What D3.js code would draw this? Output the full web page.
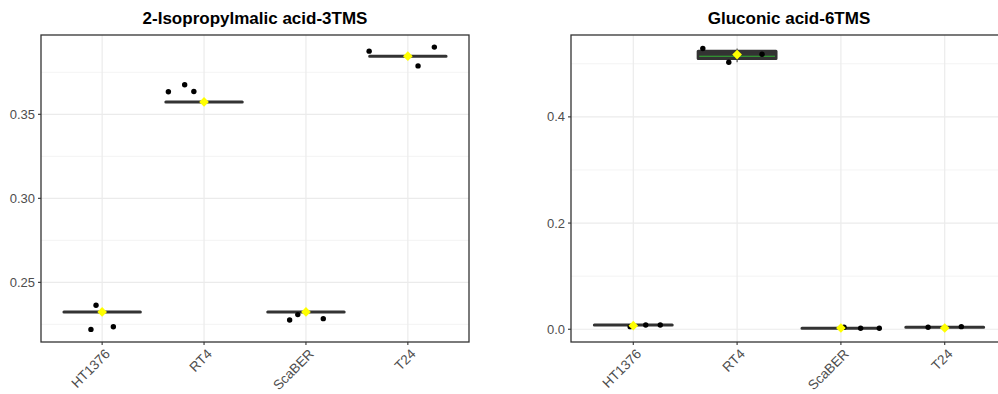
<!DOCTYPE html>
<html>
<head>
<meta charset="utf-8">
<script src="https://cdn.jsdelivr.net/npm/d3@7"></script>
<style>
  body { margin: 0; background: #fff; }
  svg { font-family: "Liberation Sans", Arial, sans-serif; }
</style>
</head>
<body>
<svg id="chart" width="998" height="394"></svg>
<script>
///// *** DATA *** /////
var categories = ['HT1376', 'RT4', 'ScaBER', 'T24'];

// panel 1: 2-Isopropylmalic acid-3TMS
var isoTitle = '2-Isopropylmalic acid-3TMS',
    isoTicks = [0.25, 0.30, 0.35],
    isoQ1 = [0.2324, 0.3574, 0.2324, 0.3846],
    isoMedian = [0.2324, 0.3574, 0.2324, 0.3846],
    isoQ3 = [0.2324, 0.3574, 0.2324, 0.3846],
    isoWhiskLo = [0.2324, 0.3574, 0.2324, 0.3846],
    isoWhiskHi = [0.2324, 0.3574, 0.2324, 0.3846],
    isoMean = [0.2324, 0.3574, 0.2324, 0.3846],
    isoPoints = [
      [0.2364, 0.2220, 0.2236],
      [0.3634, 0.3676, 0.3636],
      [0.2276, 0.2308, 0.2284],
      [0.3876, 0.3900, 0.3788]
    ],
    isoJitter = [
      [-0.06, -0.11, 0.11],
      [-0.35, -0.19, -0.10],
      [-0.16, -0.08, 0.17],
      [-0.38, 0.26, 0.10]
    ];

// panel 2: Gluconic acid-6TMS
var glucTitle = 'Gluconic acid-6TMS',
    glucTicks = [0.0, 0.2, 0.4],
    glucQ1 = [0.0081, 0.5099, 0.0019, 0.0038],
    glucMedian = [0.0081, 0.5142, 0.0019, 0.0038],
    glucQ3 = [0.0081, 0.5236, 0.0019, 0.0038],
    glucWhiskLo = [0.0081, 0.5029, 0.0019, 0.0038],
    glucWhiskHi = [0.0081, 0.5287, 0.0019, 0.0038],
    glucMean = [0.0068, 0.5174, 0.0024, 0.0024],
    glucPoints = [
      [0.0049, 0.0081, 0.0081],
      [0.5287, 0.5029, 0.5180],
      [0.0038, 0.0019, 0.0019],
      [0.0038, 0.0024, 0.0049]
    ],
    glucJitter = [
      [-0.03, 0.12, 0.26],
      [-0.33, -0.08, 0.24],
      [0.03, 0.19, 0.37],
      [-0.16, 0.0, 0.16]
    ];

///// *** DRAWING *** /////
var svg = d3.select('#chart');
var boxColor = '#333333',
    medianColor = '#33b033',
    meanColor = '#ffff00',
    gridColor = '#ebebeb',
    textColor = '#4d4d4d';

drawPanel({
  title: isoTitle, ticks: isoTicks, fmt: d3.format('.2f'),
  q1: isoQ1, med: isoMedian, q3: isoQ3, lo: isoWhiskLo, hi: isoWhiskHi,
  mean: isoMean, points: isoPoints, jitter: isoJitter,
  left: 41, right: 469, top: 35, bottom: 342,
  domain: [0.2145, 0.3972]
});

drawPanel({
  title: glucTitle, ticks: glucTicks, fmt: d3.format('.1f'),
  q1: glucQ1, med: glucMedian, q3: glucQ3, lo: glucWhiskLo, hi: glucWhiskHi,
  mean: glucMean, points: glucPoints, jitter: glucJitter,
  left: 571, right: 1007, top: 35, bottom: 342,
  domain: [-0.024, 0.5542]
});

function drawPanel(p){
  var g = svg.append('g');

  // ggplot discrete: 0.6 expansion on each side
  var x = d3.scalePoint()
    .domain(categories)
    .range([p.left, p.right])
    .padding(0.6);
  var step = x.step();
  var y = d3.scaleLinear().domain(p.domain).range([p.bottom, p.top]);

  // minor grid (midpoints between major ticks)
  var minor = [];
  var dt = p.ticks[1] - p.ticks[0];
  for (var i = -1; i < p.ticks.length; i++) {
    var v = p.ticks[0] + dt * (i + 0.5);
    if (v > p.domain[0] && v < p.domain[1]) minor.push(v);
  }
  g.selectAll('.minor').data(minor).enter().append('line')
    .attr('x1', p.left).attr('x2', p.right)
    .attr('y1', function(d){ return y(d); })
    .attr('y2', function(d){ return y(d); })
    .attr('stroke', gridColor).attr('stroke-width', 0.6);

  g.selectAll('.hmajor').data(p.ticks).enter().append('line')
    .attr('x1', p.left).attr('x2', p.right)
    .attr('y1', function(d){ return y(d); })
    .attr('y2', function(d){ return y(d); })
    .attr('stroke', gridColor).attr('stroke-width', 1.2);

  g.selectAll('.vmajor').data(categories).enter().append('line')
    .attr('y1', p.top).attr('y2', p.bottom)
    .attr('x1', function(d){ return x(d); })
    .attr('x2', function(d){ return x(d); })
    .attr('stroke', gridColor).attr('stroke-width', 1.2);

  var boxW = step * 0.75;

  // whiskers
  g.selectAll('.whisk').data(categories).enter().append('line')
    .attr('x1', function(d){ return x(d); })
    .attr('x2', function(d){ return x(d); })
    .attr('y1', function(d, i){ return y(p.lo[i]); })
    .attr('y2', function(d, i){ return y(p.hi[i]); })
    .attr('stroke', boxColor).attr('stroke-width', 1);

  // boxes (path so that a flat box still draws its outline)
  g.selectAll('.box').data(categories).enter().append('path')
    .attr('d', function(d, i){
      var x0 = x(d) - boxW / 2, x1 = x(d) + boxW / 2,
          yt = y(p.q3[i]), yb = y(p.q1[i]);
      return 'M' + x0 + ',' + yt + 'H' + x1 + 'V' + yb + 'H' + x0 + 'Z';
    })
    .attr('fill', boxColor)
    .attr('stroke', boxColor)
    .attr('stroke-width', 3)
    .attr('stroke-linejoin', 'round')
    .attr('stroke-linecap', 'round');

  // median line where the box has some height
  g.selectAll('.med').data(categories.filter(function(d, i){ return p.q3[i] > p.q1[i]; }))
    .enter().append('line')
    .attr('x1', function(d){ return x(d) - boxW / 2 + 1; })
    .attr('x2', function(d){ return x(d) + boxW / 2 - 1; })
    .attr('y1', function(d){ var i = categories.indexOf(d); return y(p.med[i]); })
    .attr('y2', function(d){ var i = categories.indexOf(d); return y(p.med[i]); })
    .attr('stroke', medianColor).attr('stroke-width', 1.2);

  // jittered points
  var pts = [];
  categories.forEach(function(c, i){
    p.points[i].forEach(function(v, j){
      pts.push({cat: c, value: v, off: p.jitter[i][j]});
    });
  });
  g.selectAll('.pt').data(pts).enter().append('circle')
    .attr('cx', function(d){ return x(d.cat) + d.off * step; })
    .attr('cy', function(d){ return y(d.value); })
    .attr('r', 2.7)
    .attr('fill', '#000');

  // means
  g.selectAll('.mean').data(categories).enter().append('path')
    .attr('d', d3.symbol().type(d3.symbolDiamond2).size(60))
    .attr('transform', function(d, i){ return 'translate(' + x(d) + ',' + y(p.mean[i]) + ')'; })
    .attr('fill', meanColor);

  // panel border
  g.append('rect')
    .attr('x', p.left).attr('y', p.top)
    .attr('width', p.right - p.left).attr('height', p.bottom - p.top)
    .attr('fill', 'none').attr('stroke', boxColor).attr('stroke-width', 1.3);

  // y axis ticks and labels
  g.selectAll('.yt').data(p.ticks).enter().append('line')
    .attr('x1', p.left - 3).attr('x2', p.left)
    .attr('y1', function(d){ return y(d); })
    .attr('y2', function(d){ return y(d); })
    .attr('stroke', boxColor).attr('stroke-width', 1.1);
  g.selectAll('.yl').data(p.ticks).enter().append('text')
    .attr('x', p.left - 6)
    .attr('y', function(d){ return y(d); })
    .attr('dy', '0.35em')
    .attr('text-anchor', 'end')
    .attr('font-size', 13)
    .attr('fill', textColor)
    .text(p.fmt);

  // x axis ticks and labels
  g.selectAll('.xt').data(categories).enter().append('line')
    .attr('x1', function(d){ return x(d); })
    .attr('x2', function(d){ return x(d); })
    .attr('y1', p.bottom).attr('y2', p.bottom + 3)
    .attr('stroke', boxColor).attr('stroke-width', 1.1);
  g.selectAll('.xl').data(categories).enter().append('text')
    .attr('transform', function(d){ return 'translate(' + (x(d) + 4) + ',' + (p.bottom + 8) + ') rotate(-45)'; })
    .attr('text-anchor', 'end')
    .attr('dy', '0.5em')
    .attr('font-size', 13.5)
    .attr('fill', textColor)
    .text(function(d){ return d; });

  // title
  g.append('text')
    .attr('x', (p.left + p.right) / 2)
    .attr('y', 24)
    .attr('text-anchor', 'middle')
    .attr('font-size', 17)
    .attr('font-weight', 'bold')
    .attr('fill', '#000')
    .text(p.title);
}
</script>
</body>
</html>
